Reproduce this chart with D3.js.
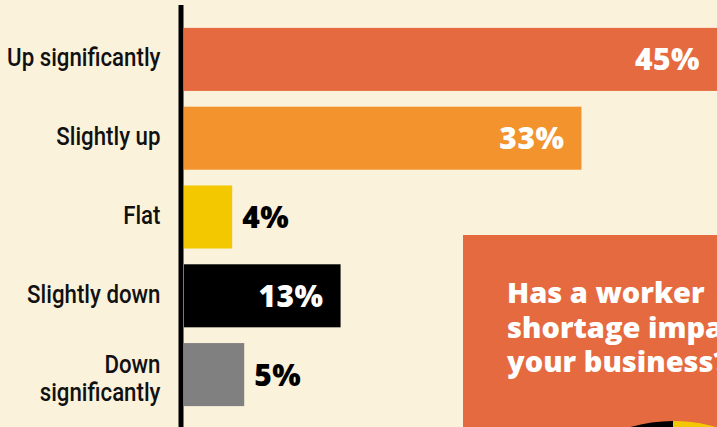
<!DOCTYPE html>
<html>
<head>
<meta charset="utf-8">
<script src="https://cdn.jsdelivr.net/npm/d3@7"></script>
<style>
  html, body { margin: 0; padding: 0; background: #fbf2dc; }
  svg { display: block; }
</style>
</head>
<body>
<div id="chart"></div>
<script>
const categories = ['Up significantly', 'Slightly up', 'Flat', 'Slightly down', 'Down significantly'];
const values = [45, 33, 4, 13, 5];
const insetTitle = ['Has a worker', 'shortage impact on', 'your business?'];
const pieLabels = ['Yes', 'No'];
const pieValues = [60, 40];

const width = 717;
const height = 427;
const colors = ['#e66a3f', '#f2932d', '#f4c800', '#000000', '#808080'];

const svg = d3.select('#chart')
  .append('svg')
  .attr('width', width)
  .attr('height', height);

svg.append('rect')
  .attr('width', width)
  .attr('height', height)
  .attr('fill', '#fbf2dc');

const x = d3.scaleLinear()
  .domain([0, 45])
  .range([184, 726]);

const y = d3.scaleBand()
  .domain(categories)
  .range([20, 414])
  .paddingInner(0.2)
  .paddingOuter(0.1);

const color = d3.scaleOrdinal().domain(categories).range(colors);
const data = categories.map((c, i) => ({ category: c, value: values[i] }));

// bars
svg.append('g')
  .selectAll('rect')
  .data(data)
  .join('rect')
  .attr('x', x(0))
  .attr('y', d => y(d.category))
  .attr('width', d => x(d.value) - x(0))
  .attr('height', y.bandwidth())
  .attr('fill', d => color(d.category));

// value labels
svg.append('g')
  .selectAll('text')
  .data(data)
  .join('text')
  .attr('x', d => d.value >= 10 ? Math.min(x(d.value), width) - 17 : x(d.value) + 10)
  .attr('y', d => y(d.category) + y.bandwidth() / 2 + 11)
  .attr('text-anchor', d => d.value >= 10 ? 'end' : 'start')
  .attr('fill', d => d.value >= 10 ? '#fff' : '#000')
  .style('font-family', '"Open Sans", sans-serif')
  .style('font-weight', 800)
  .style('font-size', '30px')
  .style('letter-spacing', '0.5px')
  .text(d => d.value + '%');

// category labels (squeezed sideways to mimic a condensed face)
const axis = d3.axisLeft(y).tickSize(0).tickPadding(0);
const gAxis = svg.append('g')
  .attr('transform', `translate(${x(0) - 2.5},0)`)
  .call(axis);

gAxis.select('.domain').remove();
gAxis.selectAll('.tick text')
  .attr('fill', '#111')
  .attr('x', null)
  .attr('dy', null)
  .attr('transform', 'translate(-21,0) scale(0.84,1)')
  .style('font-family', 'Roboto, sans-serif')
  .style('font-weight', 500)
  .style('font-size', '26.5px')
  .each(function(d) {
    const t = d3.select(this);
    t.text(null);
    const lines = d.length > 16 ? [d.slice(0, d.indexOf(' ')), d.slice(d.indexOf(' ') + 1)] : [d];
    lines.forEach((line, i) => {
      t.append('tspan')
        .attr('x', 0)
        .attr('y', lines.length > 1 ? -2 + i * 28 : 7)
        .text(line);
    });
  });

// vertical axis line
svg.append('line')
  .attr('x1', x(0) - 3)
  .attr('x2', x(0) - 3)
  .attr('y1', 5)
  .attr('y2', height)
  .attr('stroke', '#000')
  .attr('stroke-width', 5);

// inset panel
const inset = svg.append('g').attr('transform', 'translate(463,235)');

inset.append('rect')
  .attr('width', 300)
  .attr('height', 250)
  .attr('fill', '#e66a3f');

inset.append('g')
  .selectAll('text')
  .data(insetTitle)
  .join('text')
  .attr('x', 44)
  .attr('y', (d, i) => 68 + i * 34.5)
  .attr('fill', '#fff')
  .style('font-family', '"Open Sans", sans-serif')
  .style('font-weight', 800)
  .style('font-size', '29px')
  .text(d => d);

const pie = d3.pie().sort(null)(pieValues);
const arc = d3.arc().innerRadius(0).outerRadius(154);
const pieColor = d3.scaleOrdinal().domain(pieLabels).range(['#f4c800', '#000000']);

inset.append('g')
  .attr('transform', 'translate(210,340)')
  .selectAll('path')
  .data(pie)
  .join('path')
  .attr('d', arc)
  .attr('fill', (d, i) => pieColor(pieLabels[i]));
</script>
</body>
</html>
